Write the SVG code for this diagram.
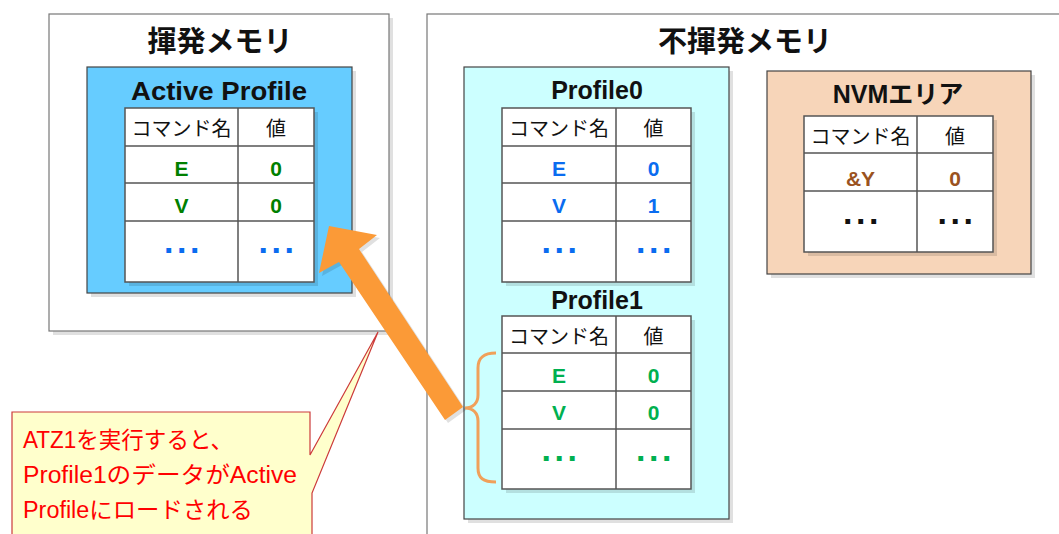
<svg xmlns="http://www.w3.org/2000/svg" width="1059" height="534" viewBox="0 0 1059 534">
  <style>
    text { font-family: "Liberation Sans", "Noto Sans CJK JP", sans-serif; }
    .title { font-size: 29px; font-weight: bold; fill: #111; text-anchor: middle; }
    .sub { font-size: 25px; font-weight: bold; fill: #111; text-anchor: middle; }
    .hdr { font-size: 20px; fill: #111; text-anchor: middle; font-family: "Noto Sans CJK JP", sans-serif; }
    .val { font-size: 21px; font-weight: bold; text-anchor: middle; }
    .dots { font-size: 34px; font-weight: bold; text-anchor: middle; letter-spacing: 3.6px; }
    .shadow { fill: #000; opacity: 0.12; }
    .cell { fill: #fff; stroke: #555; stroke-width: 1.5; }
    .grid { stroke: #555; stroke-width: 1.5; fill: none; }
    .mem { fill: #fff; stroke: #777; stroke-width: 1.2; }
    .inner { stroke: #444; stroke-width: 1.2; }
    .note { font-size: 23px; fill: #ff0000; font-family: "Liberation Sans", "Noto Sans CJK JP", sans-serif; }
  </style>

  <!-- volatile memory -->
  <g id="volatile">
    <rect class="shadow" x="53" y="18" width="340" height="317"/>
    <rect class="mem" x="49" y="14" width="340" height="317"/>
    <text class="title" x="220" y="52">揮発メモリ</text>
  </g>

  <!-- non-volatile memory -->
  <g id="nonvolatile">
    <rect class="shadow" x="431" y="18" width="700" height="600"/>
    <rect class="mem" x="427" y="14" width="700" height="600"/>
    <text class="title" x="745" y="52">不揮発メモリ</text>
  </g>

  <!-- active profile -->
  <g id="active-profile">
    <rect class="shadow" x="91" y="71" width="265" height="226"/>
    <rect class="inner" x="87" y="67" width="265" height="226" fill="#66ccff"/>
    <text class="sub" x="219" y="100" font-size="27" textLength="176" lengthAdjust="spacingAndGlyphs">Active Profile</text>
    <rect class="shadow" x="129" y="112" width="189" height="174"/>
    <rect class="cell" x="125" y="108" width="189" height="174"/>
    <path class="grid" d="M238,108 V282 M125,146 H314 M125,183 H314 M125,221 H314"/>
    <text class="hdr" x="181.5" y="136">コマンド名</text>
    <text class="hdr" x="276" y="136">値</text>
    <text class="val" x="181.5" y="176" fill="#008000">E</text>
    <text class="val" x="276" y="176" fill="#008000">0</text>
    <text class="val" x="181.5" y="213" fill="#008000">V</text>
    <text class="val" x="276" y="213" fill="#008000">0</text>
    <text class="dots" x="183.5" y="253" fill="#0a6cf0">...</text>
    <text class="dots" x="278" y="253" fill="#0a6cf0">...</text>
  </g>

  <!-- stored profiles -->
  <g id="profiles">
    <rect class="shadow" x="468" y="71" width="265" height="452"/>
    <rect class="inner" x="464" y="67" width="265" height="452" fill="#ccffff"/>
  </g>

  <g id="profile0">
    <text class="sub" x="597" y="99">Profile0</text>
    <rect class="shadow" x="506" y="112" width="189" height="174"/>
    <rect class="cell" x="502" y="108" width="189" height="174"/>
    <path class="grid" d="M616,108 V282 M502,146 H691 M502,183 H691 M502,221 H691"/>
    <text class="hdr" x="559" y="136">コマンド名</text>
    <text class="hdr" x="653.5" y="136">値</text>
    <text class="val" x="559" y="176" fill="#0a6cf0">E</text>
    <text class="val" x="653.5" y="176" fill="#0a6cf0">0</text>
    <text class="val" x="559" y="213" fill="#0a6cf0">V</text>
    <text class="val" x="653.5" y="213" fill="#0a6cf0">1</text>
    <text class="dots" x="561" y="253" fill="#0a6cf0">...</text>
    <text class="dots" x="655.5" y="253" fill="#0a6cf0">...</text>
  </g>

  <g id="profile1">
    <text class="sub" x="597" y="309">Profile1</text>
    <rect class="shadow" x="506" y="320" width="189" height="173"/>
    <rect class="cell" x="502" y="316" width="189" height="173"/>
    <path class="grid" d="M616,316 V489 M502,353 H691 M502,391 H691 M502,429 H691"/>
    <text class="hdr" x="559" y="344">コマンド名</text>
    <text class="hdr" x="653.5" y="344">値</text>
    <text class="val" x="559" y="383" fill="#00b050">E</text>
    <text class="val" x="653.5" y="383" fill="#00b050">0</text>
    <text class="val" x="559" y="420" fill="#00b050">V</text>
    <text class="val" x="653.5" y="420" fill="#00b050">0</text>
    <text class="dots" x="561" y="461" fill="#00b050">...</text>
    <text class="dots" x="655.5" y="461" fill="#00b050">...</text>
  </g>

  <!-- NVM area -->
  <g id="nvm-area">
    <rect class="shadow" x="771" y="75" width="264" height="203"/>
    <rect class="inner" x="767" y="71" width="264" height="203" fill="#f7d5b9"/>
    <text class="sub" x="898" y="103">NVMエリア</text>
    <rect class="shadow" x="808" y="120" width="189" height="136"/>
    <rect class="cell" x="804" y="116" width="189" height="136"/>
    <path class="grid" d="M917,116 V252 M804,153 H993 M804,191 H993"/>
    <text class="hdr" x="860.5" y="144">コマンド名</text>
    <text class="hdr" x="955" y="144">値</text>
    <text class="val" x="860.5" y="186" fill="#9a5220">&amp;Y</text>
    <text class="val" x="955" y="186" fill="#9a5220">0</text>
    <text class="dots" x="862.5" y="224" fill="#111">...</text>
    <text class="dots" x="957" y="224" fill="#111">...</text>
  </g>

  <!-- connectors -->
  <g id="connectors">
    <path d="M496,353 C483,353 478,358 478,368 L478,395 C478,403 473,408 465,408 C473,408 478,413 478,421 L478,468 C478,478 483,482 496,482" fill="none" stroke="#f0a05a" stroke-width="3"/>
    <polygon points="332,229 380,238 362,252 466,410 448,423 342,265 322,276" fill="#000" opacity="0.12"/>
    <polygon points="329,226 377,235 359,249 463,407 445,420 339,262 319,273" fill="#fb9a37"/>
  </g>

  <!-- callout -->
  <g id="callout">
    <path d="M12,412 H310 V455 L378,332 L312,493 V545 H12 Z" fill="#ffffcc" stroke="#cc3a3a" stroke-width="1.2"/>
    <text class="note" x="23" y="448" textLength="210" lengthAdjust="spacingAndGlyphs">ATZ1を実行すると、</text>
    <text class="note" x="23" y="483" textLength="274" lengthAdjust="spacingAndGlyphs">Profile1のデータがActive</text>
    <text class="note" x="23" y="518" textLength="230" lengthAdjust="spacingAndGlyphs">Profileにロードされる</text>
  </g>
</svg>
